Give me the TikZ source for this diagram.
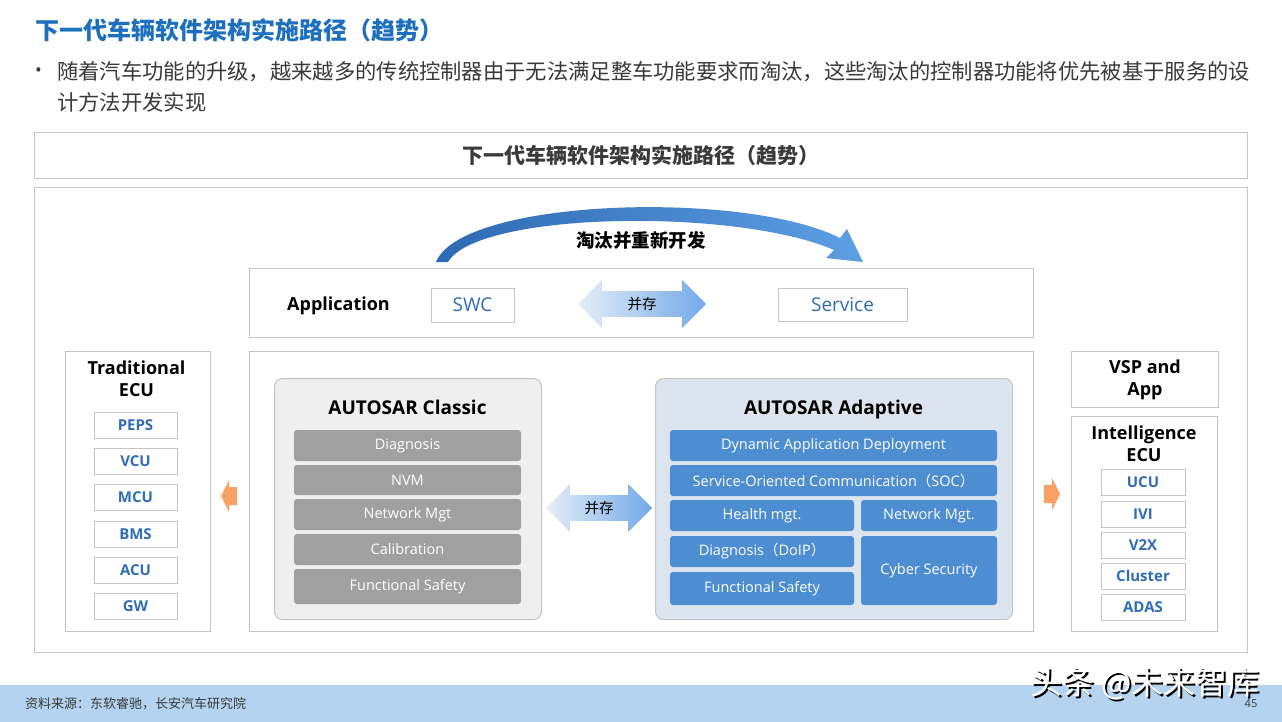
\documentclass[tikz,border=0pt]{standalone}
\usepackage{fontspec}
\setmainfont{Open Sans}
\newfontfamily\cjk{Noto Sans CJK SC}
\usetikzlibrary{arrows.meta,positioning,calc,shapes.arrows}
\definecolor{TitleBlue}{HTML}{1F6FBF}
\definecolor{LabelBlue}{HTML}{2F6DB5}
\definecolor{FrameGray}{HTML}{C4C4C4}
\definecolor{TextGray}{HTML}{3A3A3A}
\definecolor{ClassicFill}{HTML}{EFEFEF}
\definecolor{ClassicItem}{HTML}{A0A0A0}
\definecolor{AdaptiveFill}{HTML}{DCE5EF}
\definecolor{AdaptiveItem}{HTML}{4D8ED3}
\definecolor{ArrowPale}{HTML}{E4EEF9}
\definecolor{ArrowBlue}{HTML}{72A9E7}
\definecolor{SweepDark}{HTML}{2C6AB3}
\definecolor{SweepLight}{HTML}{5E9EE3}
\definecolor{ArrowOrange}{HTML}{F8A162}
\definecolor{FooterBlue}{HTML}{B3D3F0}

\begin{document}
\begin{tikzpicture}[x=1pt,y=-1pt,
  frame/.style={draw=FrameGray,line width=1pt,fill=white,inner sep=0pt,anchor=north west},
  heading/.style={font=\bfseries\fontsize{18}{22}\selectfont,align=center,inner sep=0pt},
  ecubox/.style={draw=FrameGray,line width=0.8pt,fill=white,inner sep=0pt,minimum height=26,text=LabelBlue,font=\bfseries\fontsize{15}{17}\selectfont},
  labelbox/.style={draw=FrameGray,line width=1pt,fill=white,inner sep=0pt,text=LabelBlue,font=\fontsize{19}{21}\selectfont},
  classicitem/.style={fill=ClassicItem,rounded corners=3pt,minimum width=227,inner sep=0pt,text=white,font=\fontsize{14.5}{16}\selectfont},
  adaptiveitem/.style={fill=AdaptiveItem,rounded corners=3pt,inner sep=0pt,text=white,font=\fontsize{14.5}{16}\selectfont},
  coexist/.style={double arrow,double arrow head extend=11pt,inner sep=6pt,left color=ArrowPale,right color=ArrowBlue,font=\cjk\fontsize{14.5}{16}\selectfont}
]
\fill[white] (0,0) rectangle (1282,722);
\useasboundingbox (0,0) rectangle (1282,722);

% page title and note
\node[anchor=west,inner sep=0pt,text=TitleBlue,font=\cjk\bfseries\fontsize{24}{26}\selectfont] (title) at (35,30) {下一代车辆软件架构实施路径（趋势）};
\node[anchor=west,inner sep=0pt,text=TextGray,font=\fontsize{18}{20}\selectfont] (dot) at (35,72) {•};
\node[anchor=west,inner sep=0pt,text=TextGray,font=\cjk\fontsize{21.3}{30}\selectfont] (line1) at (57,72) {随着汽车功能的升级，越来越多的传统控制器由于无法满足整车功能要求而淘汰，这些淘汰的控制器功能将优先被基于服务的设};
\node[anchor=west,inner sep=0pt,text=TextGray,font=\cjk\fontsize{21.3}{30}\selectfont] (line2) at (57,102) {计方法开发实现};

% frames
\node[frame,minimum width=1213,minimum height=46] (headbox) at (34,132) {};
\node[text=TextGray,font=\cjk\bfseries\fontsize{21}{24}\selectfont] (headtext) at (headbox.center) {下一代车辆软件架构实施路径（趋势）};
\node[frame,minimum width=1213,minimum height=465] (mainbox) at (34,187) {};

% sweep arrow
\shade[left color=SweepDark,right color=SweepLight] (436,262) .. controls (462,198) and (745,190) .. (840,238) -- (847,229) -- (863,262) -- (826,258) -- (834,250) .. controls (738,208) and (478,211) .. (448,262) -- cycle;
\node[font=\cjk\bfseries\fontsize{18.5}{21}\selectfont] (sweeptext) at (641,240) {淘汰并重新开发};

% application layer
\node[frame,minimum width=784,minimum height=69] (appbox) at (249,268) {};
\node[heading,anchor=base west] (applabel) at (287,310) {Application};
\node[labelbox,minimum width=83,minimum height=34] (swc) at (472.5,305) {SWC};
\node[labelbox,minimum width=129,minimum height=33] (service) at (842.5,304.5) {Service};
\node[coexist,minimum height=128] (appcoexist) at (642,304) {并存};

% platform layer
\node[frame,minimum width=784,minimum height=280] (midbox) at (249,351) {};
\node[frame,fill=ClassicFill,rounded corners=8pt,minimum width=267,minimum height=241] (classic) at (274,378) {};
\node[heading,anchor=base,font=\bfseries\fontsize{19}{22}\selectfont] (classictitle) at (407.5,414) {AUTOSAR Classic};
\node[classicitem,minimum height=31] (cdiag) at (407.5,445.5) {Diagnosis};
\node[classicitem,minimum height=30] (cnvm) at (407.5,480) {NVM};
\node[classicitem,minimum height=31] (cnm) at (407.5,514.5) {Network Mgt};
\node[classicitem,minimum height=31] (ccal) at (407.5,549.5) {Calibration};
\node[classicitem,minimum height=35] (cfs) at (407.5,586.5) {Functional Safety};
\node[coexist,minimum height=106] (midcoexist) at (599,508) {并存};
\node[frame,fill=AdaptiveFill,rounded corners=8pt,minimum width=357,minimum height=241] (adaptive) at (655,378) {};
\node[heading,anchor=base,font=\bfseries\fontsize{19}{22}\selectfont] (adaptivetitle) at (833.5,414) {AUTOSAR Adaptive};
\node[adaptiveitem,minimum width=327,minimum height=31] (adad) at (833.5,445.5) {Dynamic Application Deployment};
\node[adaptiveitem,minimum width=327,minimum height=31] (asoc) at (833.5,480.5) {Service-Oriented Communication{\cjk （}SOC{\cjk ）}};
\node[adaptiveitem,minimum width=184,minimum height=31] (ahm) at (762,515.5) {Health mgt.};
\node[adaptiveitem,minimum width=136,minimum height=31] (anm) at (929,515.5) {Network Mgt.};
\node[adaptiveitem,minimum width=184,minimum height=31] (adiag) at (762,551.5) {Diagnosis{\cjk （}DoIP{\cjk ）}};
\node[adaptiveitem,minimum width=136,minimum height=69] (acs) at (929,570.5) {Cyber Security};
\node[adaptiveitem,minimum width=184,minimum height=33] (afs) at (762,588.5) {Functional Safety};

% traditional ECU
\node[frame,minimum width=145,minimum height=280] (tradbox) at (65,351) {};
\node[heading] (tradtitle) at (136.5,379) {Traditional\\ECU};
\node[ecubox,minimum width=83] (peps) at (135.5,425) {PEPS}; \node[ecubox,minimum width=83] (vcu) at (135.5,461) {VCU};
\node[ecubox,minimum width=83] (mcu) at (135.5,497) {MCU}; \node[ecubox,minimum width=83] (bms) at (135.5,534) {BMS};
\node[ecubox,minimum width=83] (acu) at (135.5,570) {ACU}; \node[ecubox,minimum width=83] (gw) at (135.5,606) {GW};

% intelligence ECU
\node[frame,minimum width=147,minimum height=56] (vspbox) at (1071,351) {};
\node[heading] (vsptext) at (vspbox.center) {VSP and\\App};
\node[frame,minimum width=146,minimum height=215] (intelbox) at (1071,416) {};
\node[heading] (inteltitle) at (1144,444) {Intelligence\\ECU};
\node[ecubox,minimum width=84] (ucu) at (1143,482.5) {UCU}; \node[ecubox,minimum width=84] (ivi) at (1143,514) {IVI};
\node[ecubox,minimum width=84] (v2x) at (1143,545) {V2X}; \node[ecubox,minimum width=84] (cluster) at (1143,576) {Cluster};
\node[ecubox,minimum width=84] (adas) at (1143,607) {ADAS};

% orange arrows
\coordinate (ltip) at (221,496);
\coordinate (rtip) at (1060,494);
\fill[ArrowOrange] (ltip) -- ++(8,-16) -- ++(0,7) -- ++(8,0) -- ++(0,18) -- ++(-8,0) -- ++(0,7) -- cycle;
\fill[ArrowOrange] (rtip) -- ++(-8,-16) -- ++(0,7) -- ++(-8,0) -- ++(0,18) -- ++(8,0) -- ++(0,7) -- cycle;

% footer
\fill[FooterBlue] (0,685) rectangle (1282,722);
\node[anchor=west,inner sep=0pt,text=TextGray,font=\cjk\fontsize{13}{15}\selectfont] (source) at (25,704) {资料来源：东软睿驰，长安汽车研究院};
\node[text=black,font=\cjk\fontsize{32}{34}\selectfont] (markshadow) at (1147,686) {头条 @未来智库};
\node[text=white,font=\cjk\fontsize{32}{34}\selectfont] (mark) at (1145,684) {头条 @未来智库};
\node[text=TextGray,font=\fontsize{11}{12}\selectfont] (page) at (1251,704) {45};
\end{tikzpicture}
\end{document}
